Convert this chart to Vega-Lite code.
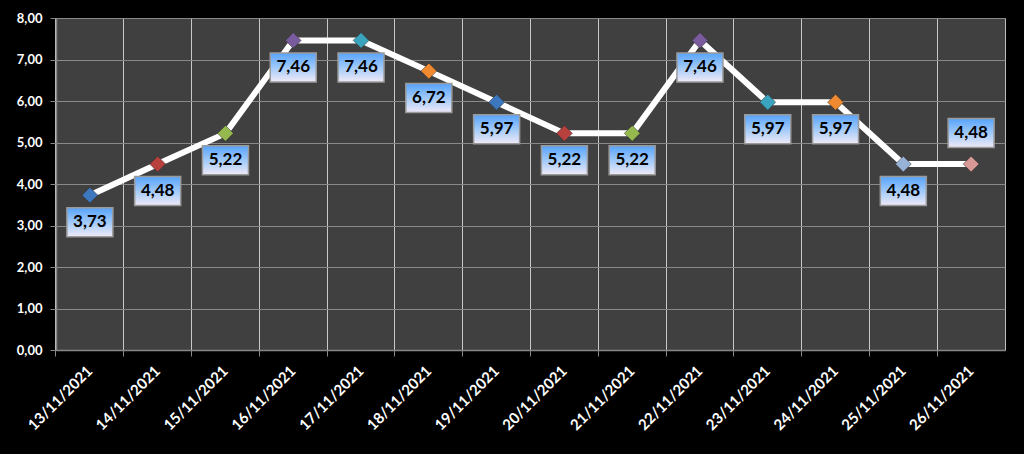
{
  "$schema": "https://vega.github.io/schema/vega-lite/v6.json",
  "autosize": "none",
  "width": 949,
  "height": 332,
  "padding": {"left": 56, "top": 18, "right": 19, "bottom": 104},
  "background": "#000000",
  "config": {
    "locale": {"number": {"decimal": ",", "thousands": ".", "grouping": [3], "currency": ["", ""]}},
    "view": {"fill": "#404040", "stroke": "#bfbfbf", "strokeWidth": 1},
    "font": "Lato"
  },
  "data": {
    "values": [
      {"date": "13/11/2021", "value": 3.73},
      {"date": "14/11/2021", "value": 4.48},
      {"date": "15/11/2021", "value": 5.22},
      {"date": "16/11/2021", "value": 7.46},
      {"date": "17/11/2021", "value": 7.46},
      {"date": "18/11/2021", "value": 6.72},
      {"date": "19/11/2021", "value": 5.97},
      {"date": "20/11/2021", "value": 5.22},
      {"date": "21/11/2021", "value": 5.22},
      {"date": "22/11/2021", "value": 7.46},
      {"date": "23/11/2021", "value": 5.97},
      {"date": "24/11/2021", "value": 5.97},
      {"date": "25/11/2021", "value": 4.48},
      {"date": "26/11/2021", "value": 4.48}
    ]
  },
  "resolve": {"axis": {"x": "independent"}},
  "layer": [
    {
      "mark": {"type": "line", "color": "#ffffff", "strokeWidth": 6, "strokeJoin": "round"},
      "encoding": {
        "x": {
          "field": "date", "type": "ordinal", "sort": null,
          "scale": {"type": "band", "paddingInner": 0, "paddingOuter": 0},
          "axis": {
            "orient": "bottom", "title": null, "bandPosition": 0, "labels": false,
            "grid": true, "gridColor": "#c8c8c8", "gridWidth": 1,
            "domainColor": "#868686", "domainWidth": 1.5,
            "tickColor": "#868686", "tickSize": 6
          }
        },
        "y": {
          "field": "value", "type": "quantitative",
          "scale": {"domain": [0, 8], "nice": false},
          "axis": {
            "title": null, "values": [0, 1, 2, 3, 4, 5, 6, 7, 8], "format": ".2f",
            "labelColor": "#ffffff", "labelFont": "Lato", "labelFontSize": 13,
            "labelFontWeight": "bold", "labelPadding": 8,
            "grid": true, "gridColor": "#8a8a8a", "gridWidth": 1,
            "domainColor": "#868686", "domainWidth": 1.5,
            "tickColor": "#868686", "tickSize": 6
          }
        }
      }
    },
    {
      "mark": {"type": "point", "shape": "diamond", "filled": true, "size": 250, "opacity": 1, "stroke": "#2a2a2a", "strokeWidth": 0.5},
      "encoding": {
        "x": {
          "field": "date", "type": "ordinal", "sort": null,
          "axis": {
            "orient": "bottom", "title": null, "grid": false, "ticks": false, "domain": false,
            "labelAngle": -45, "labelAlign": "right", "labelBaseline": "middle",
            "labelPadding": 18, "labelColor": "#ffffff", "labelFont": "Lato",
            "labelFontSize": 15, "labelFontWeight": "bold", "labelOverlap": false
          }
        },
        "y": {"field": "value", "type": "quantitative"},
        "color": {
          "field": "date", "type": "nominal", "sort": null, "legend": null,
          "scale": {
            "domain": ["13/11/2021","14/11/2021","15/11/2021","16/11/2021","17/11/2021","18/11/2021","19/11/2021","20/11/2021","21/11/2021","22/11/2021","23/11/2021","24/11/2021","25/11/2021","26/11/2021"],
            "range": ["#3d77bd","#b8403d","#95b84f","#7a5b9e","#3aa3bd","#f08a30","#3d77bd","#b8403d","#95b84f","#7a5b9e","#3aa3bd","#f08a30","#98b1d6","#d79896"]
          }
        }
      }
    },
    {
      "transform": [{"filter": "datum.date != '26/11/2021'"}],
      "mark": {
        "type": "point", "filled": true, "size": 400, "opacity": 1,
        "shape": "M-2.3,1.25H2.3V4.15H-2.3Z",
        "fill": {"gradient": "linear", "x1": 0, "y1": 0, "x2": 0, "y2": 1,
          "stops": [{"offset": 0, "color": "#56a3fb"}, {"offset": 0.55, "color": "#a8cdf9"}, {"offset": 1, "color": "#f0e9f7"}]},
        "stroke": "#9a9a9a", "strokeWidth": 1.5
      },
      "encoding": {
        "x": {"field": "date", "type": "ordinal", "sort": null, "axis": null},
        "y": {"field": "value", "type": "quantitative"}
      }
    },
    {
      "transform": [{"filter": "datum.date == '26/11/2021'"}],
      "mark": {
        "type": "point", "filled": true, "size": 400, "opacity": 1,
        "shape": "M-2.3,-4.55H2.3V-1.65H-2.3Z",
        "fill": {"gradient": "linear", "x1": 0, "y1": 0, "x2": 0, "y2": 1,
          "stops": [{"offset": 0, "color": "#56a3fb"}, {"offset": 0.55, "color": "#a8cdf9"}, {"offset": 1, "color": "#f0e9f7"}]},
        "stroke": "#9a9a9a", "strokeWidth": 1.5
      },
      "encoding": {
        "x": {"field": "date", "type": "ordinal", "sort": null, "axis": null},
        "y": {"field": "value", "type": "quantitative"}
      }
    },
    {
      "transform": [{"filter": "datum.date != '26/11/2021'"}],
      "mark": {"type": "text", "dy": 27, "font": "Lato", "fontSize": 17, "fontWeight": "bold", "color": "#000000", "align": "center", "baseline": "middle"},
      "encoding": {
        "x": {"field": "date", "type": "ordinal", "sort": null, "axis": null},
        "y": {"field": "value", "type": "quantitative"},
        "text": {"field": "value", "type": "quantitative", "format": ".2f"}
      }
    },
    {
      "transform": [{"filter": "datum.date == '26/11/2021'"}],
      "mark": {"type": "text", "dy": -31, "font": "Lato", "fontSize": 17, "fontWeight": "bold", "color": "#000000", "align": "center", "baseline": "middle"},
      "encoding": {
        "x": {"field": "date", "type": "ordinal", "sort": null, "axis": null},
        "y": {"field": "value", "type": "quantitative"},
        "text": {"field": "value", "type": "quantitative", "format": ".2f"}
      }
    }
  ]
}
